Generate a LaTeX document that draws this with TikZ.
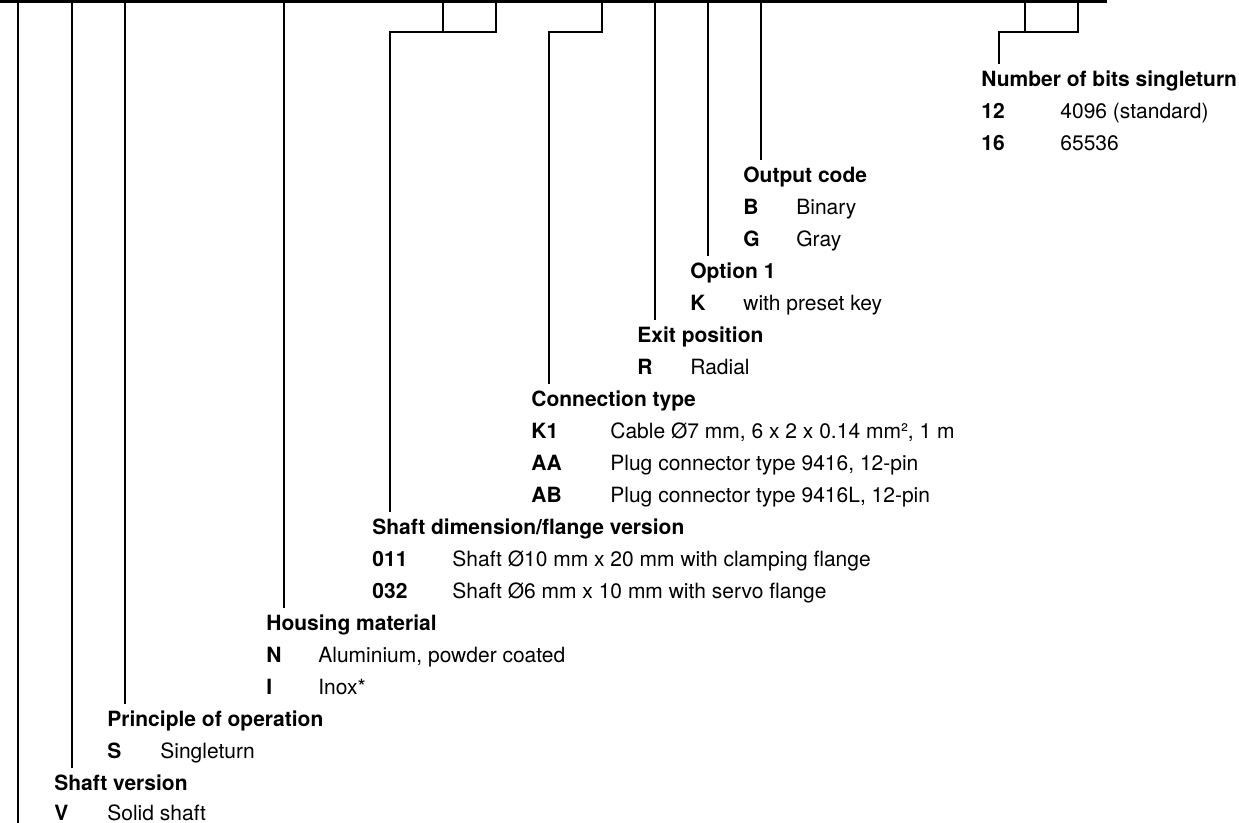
\documentclass[tikz,border=0pt]{standalone}
\usepackage{fontspec}
\setmainfont{TeX Gyre Heros}
\usetikzlibrary{positioning}
\def\fs{\fontsize{10.5pt}{12pt}\selectfont}
\tikzstyle{head}=[anchor=base west,inner sep=0pt,font=\fs\bfseries]
\tikzstyle{code}=[anchor=base west,inner sep=0pt,font=\fs\bfseries]
\tikzstyle{desc}=[anchor=base west,inner sep=0pt,font=\fs]
\tikzstyle{bar}=[line width=1.3pt]
\def\lead#1{\coordinate (#1-end) at ([shift={(18,-23)}]#1.base west)}

\begin{document}
\begin{tikzpicture}[x=0.5pt,y=-0.5pt]
  \useasboundingbox (0,0) rectangle (1239,823);
  \coordinate (top) at (0,0);
  \coordinate (barend) at (1107,0);

  % HEADINGS AND OPTIONS
  \node[head] (nbits) at (981,87) {Number of bits singleturn};
  \node[code] (c12) at (981,119) {12};   \node[desc] (d12) at (1060,119) {4096 (standard)};
  \node[code] (c16) at (981,151) {16};   \node[desc] (d16) at (1060,151) {65536};

  \node[head] (outc) at (743,183) {Output code};
  \node[code] (cB) at (743,215) {B};     \node[desc] (dB) at (796,215) {Binary};
  \node[code] (cG) at (743,247) {G};     \node[desc] (dG) at (796,247) {Gray};

  \node[head] (opt) at (690,279) {Option 1};
  \node[code] (cK) at (690,311) {K};     \node[desc] (dK) at (743,311) {with preset key};

  \node[head] (exit) at (637,343) {Exit position};
  \node[code] (cR) at (637,375) {R};     \node[desc] (dR) at (690,375) {Radial};

  \node[head] (conn) at (531,407) {Connection type};
  \node[code] (cK1) at (531,439) {K1};   \node[desc] (dK1) at (610,439) {Cable Ø7 mm, 6 x 2 x 0.14 mm², 1 m};
  \node[code] (cAA) at (531,471) {AA};   \node[desc] (dAA) at (610,471) {Plug connector type 9416, 12-pin};
  \node[code] (cAB) at (531,503) {AB};   \node[desc] (dAB) at (610,503) {Plug connector type 9416L, 12-pin};

  \node[head] (dim) at (372,535) {Shaft dimension/flange version};
  \node[code] (c011) at (372,567) {011}; \node[desc] (d011) at (452,567) {Shaft Ø10 mm x 20 mm with clamping flange};
  \node[code] (c032) at (372,599) {032}; \node[desc] (d032) at (452,599) {Shaft Ø6 mm x 10 mm with servo flange};

  \node[head] (hous) at (266,631) {Housing material};
  \node[code] (cN) at (266,663) {N};     \node[desc] (dN) at (318,663) {Aluminium, powder coated};
  \node[code] (cI) at (266,695) {I};     \node[desc] (dI) at (318,695) {Inox*};

  \node[head] (prin) at (107,727) {Principle of operation};
  \node[code] (cS) at (107,759) {S};     \node[desc] (dS) at (160,759) {Singleturn};

  \node[head] (shaft) at (54,791) {Shaft version};
  \node[code] (cV) at (54,821) {V};      \node[desc] (dV) at (107,821) {Solid shaft};

  % LEADS
  \lead{outc}; \lead{opt}; \lead{exit}; \lead{conn};
  \lead{dim}; \lead{hous}; \lead{prin}; \lead{shaft}; \lead{nbits};
  \coordinate (first) at (18,823);
  \coordinate (b1) at (443,0);  \coordinate (b2) at (496,0);
  \coordinate (b3) at (602,0);
  \coordinate (b4) at (1025,0); \coordinate (b5) at (1078,0);

  \draw[bar] (0,1.4) -- (barend |- 0,1.4);
  \draw[bar] (first) -- (first |- top);
  \foreach \n in {shaft,prin,hous,exit,opt,outc}
    \draw[bar] (\n-end) -- (\n-end |- top);
  \draw[bar] (dim-end) |- (b2 |- 0,32) -- (b2);
  \draw[bar] (b1) -- (b1 |- 0,32);
  \draw[bar] (conn-end) |- (b3 |- 0,32) -- (b3);
  \draw[bar] (nbits-end) |- (b5 |- 0,32) -- (b5);
  \draw[bar] (b4) -- (b4 |- 0,32);
\end{tikzpicture}
\end{document}
